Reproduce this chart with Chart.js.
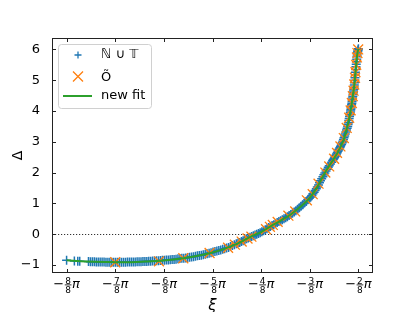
<!DOCTYPE html>
<html>
<head>
<meta charset="utf-8">
<script src="https://cdn.jsdelivr.net/npm/chart.js@4/dist/chart.umd.min.js"></script>
<style>
  html, body { margin: 0; padding: 0; background: #fff; }
  #wrap { width: 415px; height: 312px; }
</style>
</head>
<body>
<div id="wrap"><canvas id="chart" width="415" height="312"></canvas></div>
<script>
// ξ is stored in units of π/8, so -8 means -8/8 π
const xTickNumerators = [8, 7, 6, 5, 4, 3, 2];
const xTickDenominator = 8;

// N ∪ T points (blue plus markers)
const ntXi = [
    -8.00, -7.84, -7.77, -7.73,
    -7.55, -7.51, -7.47, -7.43, -7.39, -7.35, -7.31, -7.27, -7.23, -7.19, -7.15, -7.11,
    -7.07, -7.03, -6.99, -6.95, -6.91, -6.87, -6.83, -6.79,
    -6.75, -6.71, -6.67, -6.63, -6.59, -6.55, -6.51, -6.47, -6.43, -6.39, -6.35, -6.31,
    -6.27, -6.23, -6.19, -6.15, -6.11, -6.07, -6.03, -5.99,
    -5.95, -5.91, -5.87, -5.83, -5.79, -5.75, -5.71, -5.67, -5.63, -5.59, -5.55, -5.51,
    -5.47, -5.43, -5.39, -5.35, -5.31, -5.27, -5.23, -5.19,
    -5.15, -5.11, -5.07, -5.03, -4.99, -4.95, -4.91, -4.87, -4.83, -4.79, -4.75, -4.71,
    -4.67, -4.63, -4.59, -4.55, -4.51, -4.475,
    -4.44, -4.405, -4.37, -4.335, -4.30, -4.265, -4.23, -4.195, -4.16, -4.125, -4.09, -4.055,
    -4.02, -3.985, -3.95, -3.915, -3.88, -3.845, -3.81, -3.775,
    -3.74, -3.705, -3.67, -3.635, -3.60, -3.565, -3.53, -3.495, -3.46, -3.425, -3.39, -3.355,
    -3.32, -3.285, -3.25, -3.215, -3.18, -3.145, -3.11, -3.075, -3.04, -3.01,
    -2.98, -2.955, -2.935, -2.91, -2.89, -2.865, -2.845, -2.82, -2.80, -2.78, -2.755, -2.73,
    -2.71, -2.69, -2.665, -2.64, -2.62, -2.60, -2.575, -2.55, -2.53, -2.515,
    -2.50, -2.488, -2.475, -2.462, -2.45, -2.435, -2.42, -2.408, -2.395, -2.382, -2.37, -2.358,
    -2.345, -2.332, -2.32, -2.308, -2.295, -2.282, -2.27, -2.258, -2.245, -2.232, -2.22, -2.212,
    -2.205, -2.198, -2.19, -2.182, -2.175, -2.168, -2.16, -2.155, -2.15, -2.145, -2.14, -2.135,
    -2.13, -2.125, -2.12, -2.115, -2.11, -2.105, -2.10, -2.095,
    -2.09, -2.085, -2.08, -2.075, -2.07, -2.065, -2.06, -2.055, -2.05, -2.045, -2.04, -2.035,
    -2.03, -2.025, -2.02, -2.015, -2.01, -2.005, -2.00
];
const ntDelta = [
    -0.85, -0.87, -0.875, -0.88,
    -0.89, -0.892, -0.895, -0.898, -0.90, -0.902, -0.905, -0.905, -0.905, -0.908, -0.91, -0.91,
    -0.91, -0.91, -0.91, -0.91, -0.91, -0.91, -0.91, -0.908,
    -0.905, -0.905, -0.905, -0.902, -0.90, -0.898, -0.895, -0.892, -0.89, -0.888, -0.885, -0.88,
    -0.875, -0.872, -0.87, -0.865, -0.86, -0.855, -0.85, -0.845,
    -0.84, -0.835, -0.83, -0.825, -0.82, -0.81, -0.80, -0.792, -0.785, -0.778, -0.77, -0.76,
    -0.75, -0.74, -0.73, -0.715, -0.70, -0.69, -0.68, -0.665,
    -0.65, -0.635, -0.62, -0.60, -0.58, -0.562, -0.545, -0.528, -0.51, -0.49, -0.47, -0.45,
    -0.43, -0.40, -0.37, -0.34, -0.31, -0.29,
    -0.27, -0.24, -0.21, -0.18, -0.15, -0.125, -0.10, -0.075, -0.05, -0.025, 0.00, 0.025,
    0.05, 0.08, 0.11, 0.145, 0.18, 0.215, 0.25, 0.28,
    0.31, 0.345, 0.38, 0.41, 0.44, 0.47, 0.50, 0.535, 0.57, 0.605, 0.64, 0.68,
    0.72, 0.765, 0.81, 0.86, 0.91, 0.96, 1.01, 1.065, 1.12, 1.165,
    1.21, 1.26, 1.31, 1.365, 1.42, 1.475, 1.53, 1.60, 1.67, 1.735, 1.80, 1.865,
    1.93, 1.99, 2.05, 2.11, 2.17, 2.225, 2.28, 2.335, 2.39, 2.425,
    2.46, 2.495, 2.53, 2.565, 2.60, 2.645, 2.69, 2.73, 2.77, 2.805, 2.84, 2.88,
    2.92, 2.97, 3.02, 3.075, 3.13, 3.19, 3.25, 3.315, 3.38, 3.44, 3.50, 3.56,
    3.62, 3.69, 3.76, 3.82, 3.88, 3.94, 4.00, 4.05, 4.10, 4.15, 4.20, 4.255,
    4.31, 4.365, 4.42, 4.48, 4.54, 4.595, 4.65, 4.71,
    4.77, 4.845, 4.92, 5.00, 5.08, 5.17, 5.26, 5.35, 5.44, 5.52, 5.60, 5.68,
    5.76, 5.82, 5.88, 5.92, 5.96, 5.99, 6.02
];

// Õ points (orange x markers)
const oXi = [
    -7.00, -6.10, -5.60, -5.06, -4.68, -4.54, -4.40, -4.28, -4.20,
    -3.90, -3.82, -3.76, -3.66, -3.44, -3.30, -3.06, -2.94, -2.82,
    -2.68, -2.60, -2.50, -2.44, -2.37, -2.30, -2.24, -2.19, -2.16,
    -2.135, -2.115, -2.10, -2.085, -2.07, -2.06, -2.045, -2.03, -2.02, -2.005
];
const oDelta = [
    -0.91, -0.88, -0.78, -0.61, -0.44, -0.34, -0.24, -0.14, -0.08,
    0.16, 0.24, 0.30, 0.40, 0.60, 0.74, 1.10, 1.30, 1.64,
    2.00, 2.20, 2.45, 2.64, 2.85, 3.12, 3.45, 3.78, 4.02,
    4.26, 4.48, 4.66, 4.86, 5.08, 5.26, 5.50, 5.74, 5.88, 6.00
];

// new fit (green line)
const fitXi = [
    -8.0, -7.6, -7.2, -6.8, -6.4, -6.0, -5.6, -5.2, -4.9, -4.6, -4.4, -4.2,
    -4.0, -3.8, -3.6, -3.4, -3.2, -3.0, -2.85, -2.7, -2.6, -2.5, -2.4, -2.3,
    -2.25, -2.2, -2.15, -2.12, -2.09, -2.06, -2.04, -2.02, -2.0
];
const fitDelta = [
    -0.85, -0.885, -0.905, -0.91, -0.89, -0.855, -0.78, -0.67, -0.55, -0.38, -0.24, -0.07,
    0.07, 0.26, 0.44, 0.63, 0.88, 1.18, 1.52, 1.96, 2.22, 2.46, 2.73, 3.08,
    3.36, 3.68, 4.10, 4.42, 4.77, 5.26, 5.60, 5.88, 6.02
];

const FONT = '"DejaVu Sans", sans-serif';
const BLUE = '#1f77b4';
const ORANGE = '#ff7f0e';
const GREEN = '#2ca02c';

function toPoints(xs, ys) {
    return xs.map((x, i) => ({ x: x, y: ys[i] }));
}

// Dotted zero line, frame, inward ticks, fraction tick labels and legend
const decorPlugin = {
    id: 'decor',
    beforeDatasetsDraw(chart) {
        const { ctx, chartArea: a, scales: { y } } = chart;
        const py = Math.round(y.getPixelForValue(0)) + 0.5;
        ctx.save();
        ctx.strokeStyle = '#000';
        ctx.lineWidth = 0.8;
        ctx.setLineDash([1.2, 1.8]);
        ctx.beginPath();
        ctx.moveTo(a.left, py);
        ctx.lineTo(a.right, py);
        ctx.stroke();
        ctx.restore();
    },
    afterDraw(chart) {
        const { ctx, chartArea: a, scales: { x, y } } = chart;
        ctx.save();
        ctx.strokeStyle = '#222';
        ctx.lineWidth = 1;
        const L = Math.round(a.left) + 0.5, R = Math.round(a.right) - 0.5;
        const T = Math.round(a.top) + 0.5, B = Math.round(a.bottom) - 0.5;
        ctx.strokeRect(L, T, R - L, B - T);

        // ticks pointing inwards on all four sides
        const tl = 3.5;
        ctx.beginPath();
        xTickNumerators.forEach(n => {
            const px = Math.round(x.getPixelForValue(-n)) + 0.5;
            ctx.moveTo(px, B); ctx.lineTo(px, B - tl);
            ctx.moveTo(px, T); ctx.lineTo(px, T + tl);
        });
        for (let v = -1; v <= 6; v++) {
            const py = Math.round(y.getPixelForValue(v)) + 0.5;
            ctx.moveTo(L, py); ctx.lineTo(L + tl, py);
            ctx.moveTo(R, py); ctx.lineTo(R - tl, py);
        }
        ctx.stroke();

        // x tick labels: −(n/8)π
        ctx.fillStyle = '#000';
        xTickNumerators.forEach(n => {
            drawPiFraction(ctx, x.getPixelForValue(-n), a.bottom, n, xTickDenominator);
        });

        drawLegend(ctx);
        ctx.restore();
    }
};

function drawPiFraction(ctx, cx, axisY, num, den) {
    const big = '13px ' + FONT;
    const small = '9px ' + FONT;
    const piFont = 'italic 13px ' + FONT;
    ctx.font = big;
    const wMinus = ctx.measureText('\u2212').width;
    ctx.font = small;
    const wFrac = Math.max(ctx.measureText(String(num)).width, ctx.measureText(String(den)).width) + 2;
    ctx.font = piFont;
    const wPi = ctx.measureText('\u03c0').width;
    let x0 = cx - (wMinus + wFrac + wPi) / 2;
    const base = axisY + 15;

    ctx.textAlign = 'left';
    ctx.textBaseline = 'alphabetic';
    ctx.font = big;
    ctx.fillText('\u2212', x0, base);
    x0 += wMinus;

    ctx.font = small;
    ctx.textAlign = 'center';
    const fc = x0 + wFrac / 2;
    ctx.fillText(String(num), fc, axisY + 10.5);
    ctx.fillRect(x0 + 0.5, axisY + 11.5, wFrac - 1, 0.8);
    ctx.fillText(String(den), fc, axisY + 19.5);
    x0 += wFrac;

    ctx.textAlign = 'left';
    ctx.font = piFont;
    ctx.fillText('\u03c0', x0, base);
}

function drawLegend(ctx) {
    // frame
    const bx = 58.5, by = 44.5, bw = 93, bh = 64, r = 3;
    ctx.beginPath();
    ctx.moveTo(bx + r, by);
    ctx.arcTo(bx + bw, by, bx + bw, by + bh, r);
    ctx.arcTo(bx + bw, by + bh, bx, by + bh, r);
    ctx.arcTo(bx, by + bh, bx, by, r);
    ctx.arcTo(bx, by, bx + bw, by, r);
    ctx.closePath();
    ctx.fillStyle = 'rgba(255,255,255,0.8)';
    ctx.fill();
    ctx.strokeStyle = '#d0d0d0';
    ctx.lineWidth = 1;
    ctx.stroke();

    const mx = 78, tx = 101;
    const rows = [55, 76.5, 96];

    // plus marker
    ctx.strokeStyle = BLUE;
    ctx.lineWidth = 1.3;
    ctx.beginPath();
    ctx.moveTo(mx - 3.5, rows[0]); ctx.lineTo(mx + 3.5, rows[0]);
    ctx.moveTo(mx, rows[0] - 3.5); ctx.lineTo(mx, rows[0] + 3.5);
    ctx.stroke();

    // x marker
    ctx.strokeStyle = ORANGE;
    ctx.lineWidth = 1.3;
    ctx.beginPath();
    ctx.moveTo(mx - 5, rows[1] - 5); ctx.lineTo(mx + 5, rows[1] + 5);
    ctx.moveTo(mx - 5, rows[1] + 5); ctx.lineTo(mx + 5, rows[1] - 5);
    ctx.stroke();

    // line
    ctx.strokeStyle = GREEN;
    ctx.lineWidth = 2;
    ctx.beginPath();
    ctx.moveTo(63, rows[2]); ctx.lineTo(92, rows[2]);
    ctx.stroke();

    ctx.fillStyle = '#000';
    ctx.font = '13px ' + FONT;
    ctx.textAlign = 'left';
    ctx.textBaseline = 'middle';
    ctx.fillText('\u2115 \u222a \ud835\udd4b', tx, rows[0]);
    ctx.fillText('\u00d5', tx, rows[1] + 1);
    ctx.fillText('new fit', tx, rows[2]);
}

function initializeChart() {
    const ctx = document.getElementById('chart').getContext('2d');
    return new Chart(ctx, {
        type: 'scatter',
        data: {
            datasets: [
                {
                    label: 'new fit',
                    data: toPoints(fitXi, fitDelta),
                    showLine: true,
                    borderColor: GREEN,
                    borderWidth: 2,
                    pointRadius: 0,
                    cubicInterpolationMode: 'monotone',
                    order: 0
                },
                {
                    label: '\u00d5',
                    data: toPoints(oXi, oDelta),
                    pointStyle: 'crossRot',
                    pointRadius: 7,
                    borderColor: ORANGE,
                    backgroundColor: ORANGE,
                    borderWidth: 1.3,
                    order: 1
                },
                {
                    label: '\u2115 \u222a \ud835\udd4b',
                    data: toPoints(ntXi, ntDelta),
                    pointStyle: 'cross',
                    pointRadius: 4.5,
                    borderColor: BLUE,
                    backgroundColor: BLUE,
                    borderWidth: 1.5,
                    order: 2
                }
            ]
        },
        options: {
            responsive: false,
            animation: false,
            devicePixelRatio: 1,
            layout: { padding: { top: 38, right: 42, left: 0, bottom: 0 } },
            plugins: { legend: { display: false }, tooltip: { enabled: false } },
            scales: {
                x: {
                    type: 'linear',
                    min: -8.3,
                    max: -1.7,
                    grid: { display: false },
                    border: { display: false },
                    ticks: { display: false, stepSize: 1 },
                    title: {
                        display: true,
                        text: '\u03be',
                        color: '#000',
                        font: { family: FONT, size: 15, style: 'italic' },
                        padding: { top: 0, bottom: -3 }
                    },
                    afterFit: s => { s.height = 39; }
                },
                y: {
                    type: 'linear',
                    min: -1.26,
                    max: 6.37,
                    grid: { display: false },
                    border: { display: false },
                    ticks: {
                        stepSize: 1,
                        includeBounds: false,
                        color: '#000',
                        padding: 4,
                        font: { family: FONT, size: 13 },
                        callback: v => Number.isInteger(v) ? String(v).replace('-', '\u2212') : ''
                    },
                    title: {
                        display: true,
                        text: '\u0394',
                        color: '#000',
                        font: { family: FONT, size: 14 },
                        padding: { top: 10, bottom: 0 }
                    },
                    afterFit: s => { s.width = 52; }
                }
            }
        },
        plugins: [decorPlugin]
    });
}

document.addEventListener('DOMContentLoaded', initializeChart);
</script>
</body>
</html>
